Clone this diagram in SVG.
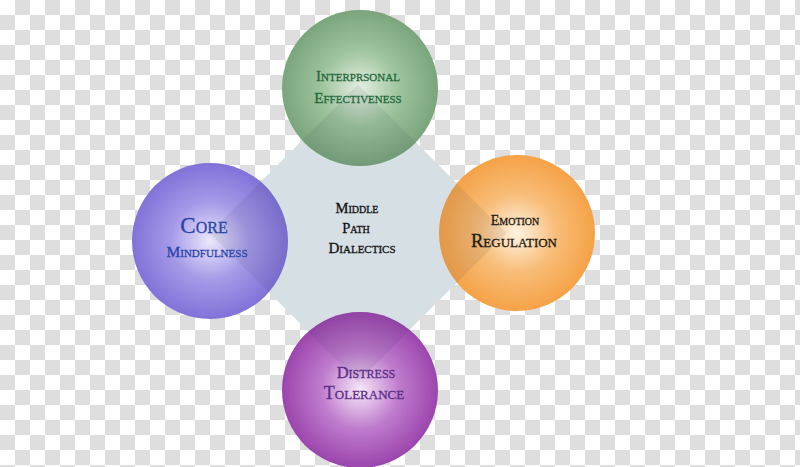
<svg xmlns="http://www.w3.org/2000/svg" width="800" height="467" viewBox="0 0 800 467">
<defs>
<pattern id="checker" width="30" height="30" patternUnits="userSpaceOnUse">
<rect width="30" height="30" fill="#ffffff"/>
<rect x="15" y="0" width="15" height="15" fill="#dedede"/>
<rect x="0" y="15" width="15" height="15" fill="#dedede"/>
</pattern>
<radialGradient id="gGreen" cx="0.5" cy="0.5" r="0.5">
<stop offset="0" stop-color="#e4eee1"/>
<stop offset="0.5" stop-color="#9dc49c"/>
<stop offset="1" stop-color="#7aa57c"/>
</radialGradient>
<radialGradient id="gBlue" cx="0.5" cy="0.5" r="0.5">
<stop offset="0" stop-color="#ebe8fb"/>
<stop offset="0.5" stop-color="#a59ae8"/>
<stop offset="1" stop-color="#8172d8"/>
</radialGradient>
<radialGradient id="gOrange" cx="0.5" cy="0.5" r="0.5">
<stop offset="0" stop-color="#fff3e2"/>
<stop offset="0.5" stop-color="#f8bd78"/>
<stop offset="1" stop-color="#f5a247"/>
</radialGradient>
<radialGradient id="gPurple" cx="0.5" cy="0.5" r="0.5">
<stop offset="0" stop-color="#f6e8f8"/>
<stop offset="0.5" stop-color="#bf7ccd"/>
<stop offset="1" stop-color="#9b45ad"/>
</radialGradient>
<clipPath id="circles">
<circle cx="360" cy="88" r="78"/>
<circle cx="210" cy="241" r="78"/>
<circle cx="517" cy="233" r="78"/>
<circle cx="360" cy="390" r="78"/>
</clipPath>
</defs>
<style>
text { font-family: "Liberation Serif", "Times New Roman", serif; font-variant: small-caps; text-anchor: middle; stroke-width: 0.3px; }
.green { fill: #23683a; stroke: #23683a; font-size: 15px; }
.blue { fill: #2a45a8; stroke: #2a45a8; }
.dark { fill: #1e1812; stroke: #1e1812; }
.purple { fill: #5b2e86; stroke: #5b2e86; }
.center { fill: #111111; stroke: #111111; }
</style>
<rect width="800" height="467" fill="url(#checker)"/>
<g id="middle-path">
<polygon points="358,84.5 506.5,233 358,381.5 209.5,233" fill="#d6dfe3"/>
<text class="center" x="357" y="213" font-size="14.5">Middle</text>
<text class="center" x="356" y="233" font-size="14.5">Path</text>
<text class="center" x="362" y="253" font-size="15">Dialectics</text>
</g>
<g id="interpersonal-effectiveness">
<circle cx="360" cy="88" r="78" fill="url(#gGreen)"/>
</g>
<g id="core-mindfulness">
<circle cx="210" cy="241" r="78" fill="url(#gBlue)"/>
</g>
<g id="emotion-regulation">
<circle cx="517" cy="233" r="78" fill="url(#gOrange)"/>
</g>
<g id="distress-tolerance">
<circle cx="360" cy="390" r="78" fill="url(#gPurple)"/>
</g>
<g id="overlap" clip-path="url(#circles)">
<polygon points="358,84.5 506.5,233 358,381.5 209.5,233" fill="#1c2440" opacity="0.08"/>
</g>
<g id="labels">
<text class="green" x="358" y="81">Interprsonal</text>
<text class="green" x="358" y="103">Effectiveness</text>
<text class="blue" x="204" y="233" font-size="23">Core</text>
<text class="blue" x="207" y="257" font-size="15.5">Mindfulness</text>
<text class="dark" x="515" y="225" font-size="14">Emotion</text>
<text class="dark" x="514" y="247" font-size="18.5">Regulation</text>
<text class="purple" x="366" y="378" font-size="16.5">Distress</text>
<text class="purple" x="364" y="399" font-size="18">Tolerance</text>
</g>
</svg>
